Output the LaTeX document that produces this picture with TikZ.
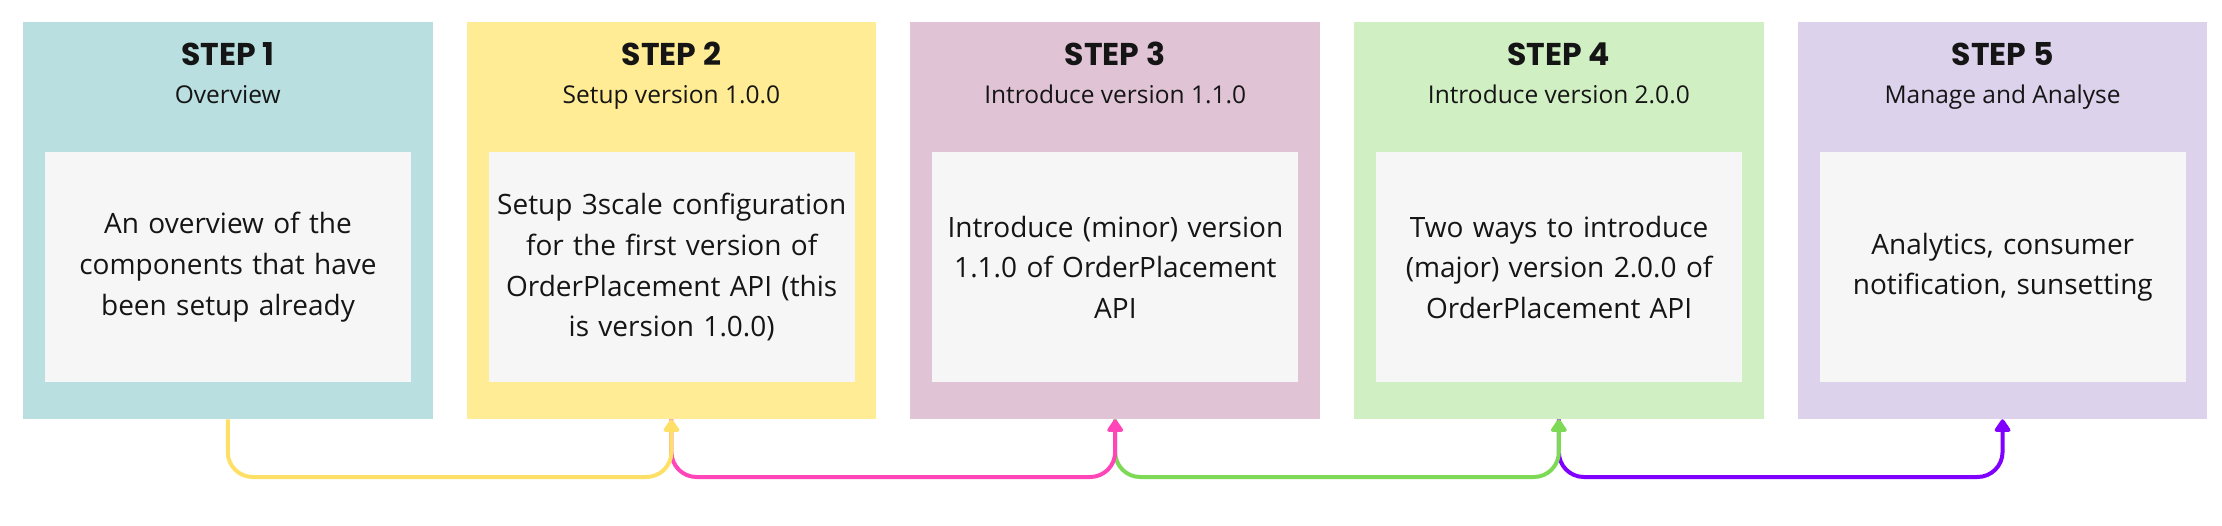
\documentclass[tikz,border=0pt]{standalone}
\usepackage{fontspec}
\setmainfont{Open Sans}
\newfontfamily\titlefont{Poppins}
\usetikzlibrary{arrows.meta}
\definecolor{bgA}{HTML}{B9DFE0}
\definecolor{bgB}{HTML}{FFEC94}
\definecolor{bgC}{HTML}{E0C4D6}
\definecolor{bgD}{HTML}{D0F0C4}
\definecolor{bgE}{HTML}{DCD2EC}
\definecolor{inner}{HTML}{F6F6F6}
\definecolor{cA}{HTML}{FFE066}
\definecolor{cB}{HTML}{FF45B8}
\definecolor{cC}{HTML}{7ED957}
\definecolor{cD}{HTML}{8000FF}
\definecolor{ink}{HTML}{151515}
\begin{document}
\begin{tikzpicture}[x=1pt,y=-1pt,
  outerbox/.style={fill=#1, draw=none, minimum width=409.5pt, minimum height=397.6pt, inner sep=0pt, outer sep=0pt},
  innerbox/.style={fill=inner, draw=none, minimum width=366pt, minimum height=230pt, inner sep=0pt, outer sep=0pt,
     text width=360pt, align=center, text=ink, font=\fontsize{28}{40.7}\selectfont},
  titletext/.style={anchor=base, text=ink, font=\titlefont\fontsize{31.5}{36}\selectfont\bfseries, inner sep=0pt},
  subtext/.style={anchor=base, text=ink, font=\fontsize{24.5}{30}\selectfont, inner sep=0pt},
  conn/.style={draw=#1, line width=4pt, rounded corners=25pt,
     -{Triangle[width=18pt,length=14pt,round]}},
]
\useasboundingbox (0,0) rectangle (2222,526);
\coordinate (lane) at (0,477);
\foreach \i/\c/\t/\s/\b in {
  1/bgA/STEP 1/Overview/{An overview of the\\components that have\\been setup already},
  2/bgB/STEP 2/Setup version 1.0.0/{Setup 3scale configuration\\for the first version of\\OrderPlacement API (this\\is version 1.0.0)},
  3/bgC/STEP 3/Introduce version 1.1.0/{Introduce (minor) version\\1.1.0 of OrderPlacement\\API},
  4/bgD/STEP 4/Introduce version 2.0.0/{Two ways to introduce\\(major) version 2.0.0 of\\OrderPlacement API},
  5/bgE/STEP 5/Manage and Analyse/{Analytics, consumer\\notification, sunsetting}}{
  \pgfmathsetmacro{\cx}{227.75+443.7*(\i-1)}
  \node[outerbox=\c] (s\i) at (\cx,220.5) {};
  \node[titletext] (t\i) at (\cx,65.7) {\t};
  \node[subtext] (u\i) at (\cx,103.3) {\s};
  \node[innerbox] (d\i) at (\cx+0.25,267.3) {\b};
}
\draw[conn=cD] (s4.south) -- (s4.south |- lane) -- (s5.south |- lane) -- (s5.south);
\draw[conn=cC] (s3.south) -- (s3.south |- lane) -- (s4.south |- lane) -- (s4.south);
\draw[conn=cB] (s2.south) -- (s2.south |- lane) -- (s3.south |- lane) -- (s3.south);
\draw[conn=cA] (s1.south) -- (s1.south |- lane) -- (s2.south |- lane) -- (s2.south);
\end{tikzpicture}
\end{document}
